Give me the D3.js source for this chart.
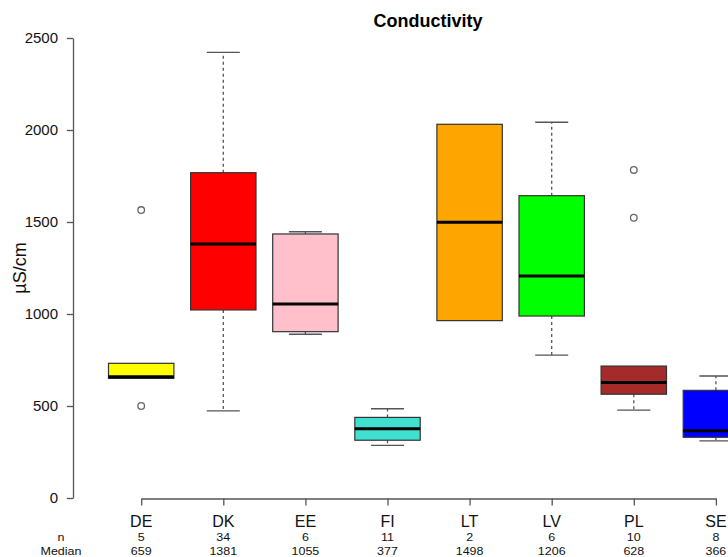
<!DOCTYPE html>
<html>
<head>
<meta charset="utf-8">
<script src="https://cdn.jsdelivr.net/npm/d3@7"></script>
<style>
  body { margin: 0; background: #fff; }
  text { font-family: "Liberation Sans", Arial, sans-serif; }
</style>
</head>
<body>
<div id="chart"></div>
<script>
// conductivity per country
var countries = ["DE", "DK", "EE", "FI", "LT", "LV", "PL", "SE"];
var nCounts   = [5, 34, 6, 11, 2, 6, 10, 8];
var medians   = [659, 1381, 1055, 377, 1498, 1206, 628, 366];
var q1        = [650, 1022, 904, 314, 964, 989, 564, 330];
var q3        = [732, 1768, 1435, 438, 2031, 1643, 717, 585];
var whiskLow  = [650, 474, 890, 286, 964, 776, 478, 310];
var whiskHigh = [732, 2422, 1447, 485, 2031, 2042, 717, 663];
var outliers  = [[1565, 500], [], [], [], [], [], [1783, 1523], []];
var fills     = ["#ffff00", "#ff0000", "#ffc0cb", "#40e0d0", "#ffa500", "#00ff00", "#a52a2a", "#0000ff"];
var yTicks    = [0, 500, 1000, 1500, 2000, 2500];

var width = 728, height = 557;
var halfBox = 32.7, halfCap = 16.5;
var axisCol = "#555";

var svg = d3.select("#chart").append("svg")
  .attr("width", width).attr("height", height);

var y = d3.scaleLinear().domain([0, 2500]).range([498, 38]);
var x = d3.scalePoint().domain(countries).range([141.2, 715.9]);

var boxes = countries.map(function(c, i) {
  return {c: c, med: medians[i], lo: q1[i], hi: q3[i], wl: whiskLow[i], wh: whiskHigh[i],
          out: outliers[i], fill: fills[i], n: nCounts[i]};
});

// y axis
var yAxis = svg.append("g")
  .attr("transform", "translate(73,0)")
  .call(d3.axisLeft(y).tickValues(yTicks).tickFormat(d3.format("d"))
    .tickSize(6).tickSizeOuter(0).tickPadding(9));
yAxis.selectAll("path, line").attr("stroke", axisCol).attr("stroke-width", 1.3);
yAxis.selectAll("text").attr("font-size", 15).attr("fill", "#111")
  .style("font-family", "'Liberation Sans', Arial, sans-serif");

// x axis
var xAxis = svg.append("g")
  .attr("transform", "translate(0,498.5)")
  .call(d3.axisBottom(x).tickSize(7).tickSizeOuter(0).tickFormat(""));
xAxis.selectAll("path, line").attr("stroke", axisCol).attr("stroke-width", 1.3);

var g = svg.selectAll(".box").data(boxes).enter().append("g").attr("class", "box");

// whiskers (dashed)
g.filter(function(d) { return d.wh > d.hi; }).append("line")
  .attr("x1", function(d) { return x(d.c); }).attr("x2", function(d) { return x(d.c); })
  .attr("y1", function(d) { return y(d.hi); }).attr("y2", function(d) { return y(d.wh); })
  .attr("stroke", axisCol).attr("stroke-width", 1.3).attr("stroke-dasharray", "3,3");
g.filter(function(d) { return d.wl < d.lo; }).append("line")
  .attr("x1", function(d) { return x(d.c); }).attr("x2", function(d) { return x(d.c); })
  .attr("y1", function(d) { return y(d.lo); }).attr("y2", function(d) { return y(d.wl); })
  .attr("stroke", axisCol).attr("stroke-width", 1.3).attr("stroke-dasharray", "3,3");

// caps
g.filter(function(d) { return d.wh > d.hi; }).append("line")
  .attr("x1", function(d) { return x(d.c) - halfCap; }).attr("x2", function(d) { return x(d.c) + halfCap; })
  .attr("y1", function(d) { return y(d.wh); }).attr("y2", function(d) { return y(d.wh); })
  .attr("stroke", axisCol).attr("stroke-width", 1.3);
g.filter(function(d) { return d.wl < d.lo; }).append("line")
  .attr("x1", function(d) { return x(d.c) - halfCap; }).attr("x2", function(d) { return x(d.c) + halfCap; })
  .attr("y1", function(d) { return y(d.wl); }).attr("y2", function(d) { return y(d.wl); })
  .attr("stroke", axisCol).attr("stroke-width", 1.3);

// boxes
g.append("rect")
  .attr("x", function(d) { return x(d.c) - halfBox; })
  .attr("y", function(d) { return y(d.hi); })
  .attr("width", halfBox * 2)
  .attr("height", function(d) { return y(d.lo) - y(d.hi); })
  .attr("fill", function(d) { return d.fill; })
  .attr("stroke", "#333").attr("stroke-width", 1.2);

// medians
g.append("line")
  .attr("x1", function(d) { return x(d.c) - halfBox; }).attr("x2", function(d) { return x(d.c) + halfBox; })
  .attr("y1", function(d) { return y(d.med); }).attr("y2", function(d) { return y(d.med); })
  .attr("stroke", "#000").attr("stroke-width", 3);

// outliers
g.each(function(d) {
  d3.select(this).selectAll("circle").data(d.out).enter().append("circle")
    .attr("cx", x(d.c)).attr("cy", function(v) { return y(v); }).attr("r", 3.3)
    .attr("fill", "none").attr("stroke", "#666").attr("stroke-width", 1.3);
});

// category labels
svg.selectAll(".cat").data(boxes).enter().append("text")
  .attr("x", function(d) { return x(d.c); }).attr("y", 527)
  .attr("text-anchor", "middle").attr("font-size", 16).attr("fill", "#111")
  .text(function(d) { return d.c; });

// n / median rows (the small text is a bit wide in the original)
function statText(tx, ty, s) {
  svg.append("text")
    .attr("transform", "translate(" + tx + "," + ty + ") scale(1.25,1)")
    .attr("text-anchor", "middle").attr("font-size", 10).attr("fill", "#111")
    .text(s);
}
boxes.forEach(function(d) {
  statText(x(d.c), 541.3, d.n);
  statText(x(d.c), 555.2, d.med);
});
statText(61, 541.3, "n");
statText(61, 555.2, "Median");

// title and y label
svg.append("text").attr("x", 428).attr("y", 27).attr("text-anchor", "middle")
  .attr("font-size", 18).attr("font-weight", "bold").attr("fill", "#000").text("Conductivity");
svg.append("text").attr("transform", "translate(26,268) rotate(-90)")
  .attr("text-anchor", "middle").attr("font-size", 18).attr("fill", "#111").text("µS/cm");
</script>
</body>
</html>
